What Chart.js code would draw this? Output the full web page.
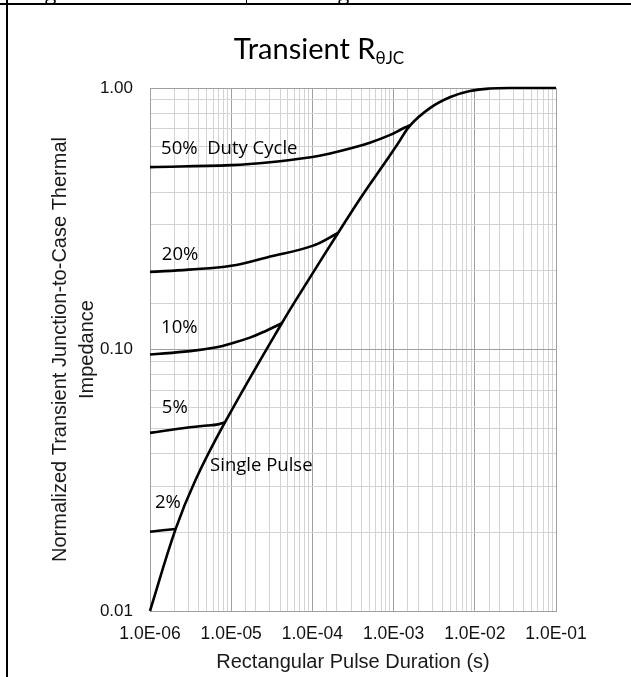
<!DOCTYPE html>
<html>
<head>
<meta charset="utf-8">
<script src="https://cdn.jsdelivr.net/npm/chart.js@4.4.1/dist/chart.umd.min.js"></script>
<style>
  html, body { margin: 0; padding: 0; background: #fff; overflow: hidden; }
  #wrap { position: relative; width: 631px; height: 677px; }
  #c { position: absolute; left: 0; top: 0; }
  .rule { position: absolute; background: #000; }
  .frag { position: absolute; top: -18px; font: 21px "Open Sans", sans-serif; line-height: 21px; color: #000; }
</style>
</head>
<body>
<div id="wrap">
  <canvas id="c" width="631" height="677"></canvas>
  <span class="frag" style="left:45px">g</span>
  <span class="frag" style="left:338px">g</span>
  <div class="rule" style="left:0;top:3px;width:631px;height:2px"></div>
  <div class="rule" style="left:6px;top:0;width:2px;height:677px"></div>
  <div class="rule" style="left:246px;top:0;width:1px;height:4px"></div>
</div>
<script>
// Pulse duration (s) and normalized impedance
const singleX = [1e-6, 2.07e-6, 3.6e-6, 8.4e-6, 4.2e-5, 8.8e-5, 2.07e-4, 3.9e-4, 6.8e-4, 1.1e-3, 1.6e-3, 2.8e-3, 5e-3, 8.7e-3, 1.5e-2, 3e-2, 1e-1];
const singleY = [0.010, 0.0206, 0.0315, 0.0527, 0.126, 0.183, 0.279, 0.379, 0.487, 0.605, 0.72, 0.838, 0.924, 0.974, 0.995, 1.0, 1.0];

const duty50X = [1e-6, 1e-5, 3e-5, 1e-4, 1.65e-4, 2.9e-4, 5.1e-4, 9.1e-4, 1.3e-3, 1.6e-3];
const duty50Y = [0.498, 0.507, 0.52, 0.545, 0.562, 0.587, 0.618, 0.662, 0.70, 0.72];

const duty20X = [1e-6, 3e-6, 1e-5, 2.75e-5, 1e-4, 2.07e-4];
const duty20Y = [0.198, 0.202, 0.209, 0.225, 0.249, 0.279];

const duty10X = [1e-6, 3.1e-6, 6.6e-6, 1e-5, 1.7e-5, 2.7e-5, 4.2e-5];
const duty10Y = [0.0957, 0.0986, 0.102, 0.1055, 0.111, 0.118, 0.126];

const duty5X = [1e-6, 3.1e-6, 5e-6, 6.6e-6, 8.4e-6];
const duty5Y = [0.048, 0.0504, 0.0512, 0.0516, 0.0527];

const duty2X = [1e-6, 2.07e-6];
const duty2Y = [0.0201, 0.0206];

const curveLabels = ['50%  Duty Cycle', '20%', '10%', '5%', 'Single Pulse', '2%'];
const labelAtX = [1.37e-6, 1.4e-6, 1.37e-6, 1.4e-6, 5.5e-6, 1.15e-6];
const labelAtY = [0.584, 0.231, 0.121, 0.0601, 0.0359, 0.0259];

const chartTitle = 'Transient R';
const chartTitleSub = 'θJC';
const xTitle = 'Rectangular Pulse Duration (s)';
const yTitle = ['Normalized Transient Junction-to-Case Thermal', 'Impedance'];

function pts(xs, ys) {
    return xs.map(function(v, i) { return { x: v, y: ys[i] }; });
}

function isDecade(v) {
    const l = Math.log10(v);
    return Math.abs(l - Math.round(l)) < 1e-6;
}

function line(xs, ys) {
    return {
        data: pts(xs, ys),
        showLine: true,
        borderColor: '#000',
        borderWidth: 2.6,
        pointRadius: 0,
        tension: 0.4,
        clip: 4
    };
}

const textPlugin = {
    id: 'texts',
    afterDatasetsDraw(chart) {
        const ctx = chart.ctx;
        const sx = chart.scales.x, sy = chart.scales.y;
        ctx.save();
        ctx.fillStyle = '#000';
        ctx.font = '18.5px "Open Sans", sans-serif';
        ctx.textAlign = 'left';
        ctx.textBaseline = 'middle';
        curveLabels.forEach(function(t, i) {
            ctx.fillText(t, sx.getPixelForValue(labelAtX[i]), sy.getPixelForValue(labelAtY[i]));
        });
        ctx.restore();
    },
    afterDraw(chart) {
        const ctx = chart.ctx;
        const a = chart.chartArea;
        ctx.save();
        ctx.fillStyle = '#000';
        // title with subscript
        ctx.textBaseline = 'alphabetic';
        ctx.textAlign = 'left';
        ctx.font = '29px Lato, sans-serif';
        const w1 = ctx.measureText(chartTitle).width;
        ctx.font = '17px Lato, sans-serif';
        const w2 = ctx.measureText(chartTitleSub).width;
        const x0 = 319 - (w1 + w2) / 2;
        ctx.font = '29px Lato, sans-serif';
        ctx.fillText(chartTitle, x0, 59);
        ctx.font = '17px Lato, sans-serif';
        ctx.fillText(chartTitleSub, x0 + w1, 64);

        // axis titles
        ctx.fillStyle = '#1a1a1a';
        ctx.font = '20px "Liberation Sans", Arial, sans-serif';
        ctx.textAlign = 'center';
        ctx.textBaseline = 'middle';
        ctx.fillText(xTitle, (a.left + a.right) / 2, 662);
        ctx.translate(60, (a.top + a.bottom) / 2);
        ctx.rotate(-Math.PI / 2);
        ctx.fillText(yTitle[0], 0, 0);
        ctx.fillText(yTitle[1], 0, 27);
        ctx.restore();
    }
};

new Chart(document.getElementById('c'), {
    type: 'scatter',
    data: {
        datasets: [
            line(singleX, singleY),
            line(duty50X, duty50Y),
            line(duty20X, duty20Y),
            line(duty10X, duty10Y),
            line(duty5X, duty5Y),
            line(duty2X, duty2Y)
        ]
    },
    options: {
        responsive: false,
        animation: false,
        layout: { padding: { left: 0, right: 75, top: 88, bottom: 0 } },
        plugins: {
            legend: { display: false },
            tooltip: { enabled: false }
        },
        scales: {
            x: {
                type: 'logarithmic',
                min: 1e-6,
                max: 1e-1,
                afterFit: function(s) { s.height = 66; },
                border: { display: true, color: '#a0a0a0' },
                grid: {
                    drawTicks: false,
                    color: function(c) { return isDecade(c.tick.value) ? '#a0a0a0' : '#d3d3d3'; }
                },
                ticks: {
                    autoSkip: false,
                    maxRotation: 0,
                    padding: 13,
                    color: '#111',
                    font: { family: '"Liberation Sans", Arial, sans-serif', size: 17.5 },
                    callback: function(v) {
                        if (!isDecade(v)) return '';
                        const e = Math.round(Math.log10(v));
                        return '1.0E' + (e < 0 ? '-' : '+') + String(Math.abs(e)).padStart(2, '0');
                    }
                }
            },
            y: {
                type: 'logarithmic',
                min: 0.01,
                max: 1,
                afterFit: function(s) { s.width = 150; },
                border: { display: true, color: '#a0a0a0' },
                grid: {
                    drawTicks: false,
                    color: function(c) { return isDecade(c.tick.value) ? '#a0a0a0' : '#d3d3d3'; }
                },
                ticks: {
                    autoSkip: false,
                    padding: 17,
                    color: '#111',
                    font: { family: '"Liberation Sans", Arial, sans-serif', size: 17 },
                    callback: function(v) {
                        return isDecade(v) ? v.toFixed(2) : '';
                    }
                }
            }
        }
    },
    plugins: [textPlugin]
});
</script>
</body>
</html>
